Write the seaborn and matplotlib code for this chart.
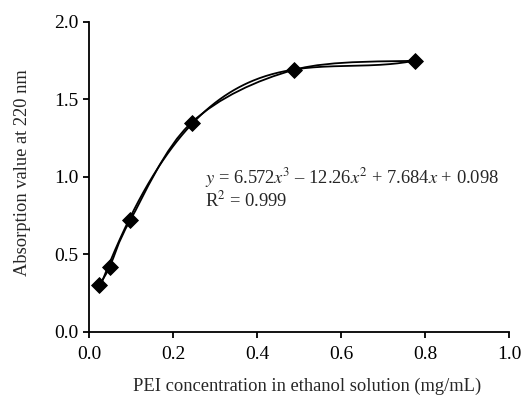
import numpy as np
import pandas as pd
import seaborn as sns
from matplotlib import pyplot as plt
from matplotlib.path import Path
from matplotlib.patches import PathPatch

# PEI concentration (mg/mL) and absorbance at 220 nm
conc = [0.024, 0.049, 0.098, 0.244, 0.488, 0.776]
absorb = [0.30, 0.42, 0.72, 1.35, 1.69, 1.75]
# cubic trendline coefficients as printed on the chart (highest power first)
fit_coef = [6.572, -12.26, 7.684, 0.098]
eq_text = r"$y$ = 6.572$x^3$ – 12.26$x^2$ + 7.684$x$ + 0.098"
r2_text = r"R$^2$ = 0.999"

sns.set_theme(style="ticks")
plt.rcParams["font.family"] = ["Liberation Serif", "DejaVu Serif"]
plt.rcParams["mathtext.fontset"] = "stix"

df = pd.DataFrame({"conc": conc, "absorb": absorb})

fig, ax = plt.subplots(figsize=(5.21, 3.96), dpi=100)
fig.subplots_adjust(left=0.171, right=0.977, top=0.945, bottom=0.162)

# Excel-like smoothed line through the points (cubic Bezier segments)
pts = df[["conc", "absorb"]].to_numpy()
verts = [pts[0]]
codes = [Path.MOVETO]
n = len(pts)
for i in range(n - 1):
    p0 = pts[i - 1] if i > 0 else pts[i]
    p1, p2 = pts[i], pts[i + 1]
    p3 = pts[i + 2] if i + 2 < n else pts[i + 1]
    c1 = p1 + (p2 - p0) / 6
    c2 = p2 - (p3 - p1) / 6
    verts += [c1, c2, p2]
    codes += [Path.CURVE4] * 3
ax.add_patch(PathPatch(Path(verts, codes), facecolor="none", edgecolor="black", lw=1.3))

# polynomial trendline
xx = np.linspace(min(conc), max(conc), 200)
trend = pd.DataFrame({"conc": xx, "absorb": np.polyval(fit_coef, xx)})
sns.lineplot(data=trend, x="conc", y="absorb", color="black", lw=1.3, ax=ax)

sns.scatterplot(data=df, x="conc", y="absorb", marker="D", s=65, color="black",
                edgecolor="black", zorder=5, ax=ax)

ax.text(0.276, 0.955, eq_text, fontsize=13.3, va="baseline")
ax.text(0.276, 0.81, r2_text, fontsize=13.3, va="baseline")

ax.set_xlim(0, 1.0)
ax.set_ylim(0, 2.0)
ax.set_xticks(np.arange(0, 1.01, 0.2))
ax.set_yticks(np.arange(0, 2.01, 0.5))
ax.xaxis.set_major_formatter(plt.FormatStrFormatter("%.1f"))
ax.yaxis.set_major_formatter(plt.FormatStrFormatter("%.1f"))
ax.tick_params(direction="out", length=4, width=1.3, labelsize=14, colors="black")
ax.tick_params(axis="x", pad=6)
for side in ["left", "bottom"]:
    ax.spines[side].set_linewidth(1.3)
    ax.spines[side].set_color("black")
sns.despine(ax=ax)
ax.set_xlabel("PEI concentration in ethanol solution (mg/mL)", fontsize=13.3, labelpad=11)
ax.set_ylabel("Absorption value at 220 nm", fontsize=13.3, labelpad=17)
ax.xaxis.label.set_x(0.52)
ax.yaxis.label.set_y(0.515)

plt.savefig("out.png", dpi=100)
plt.close()
